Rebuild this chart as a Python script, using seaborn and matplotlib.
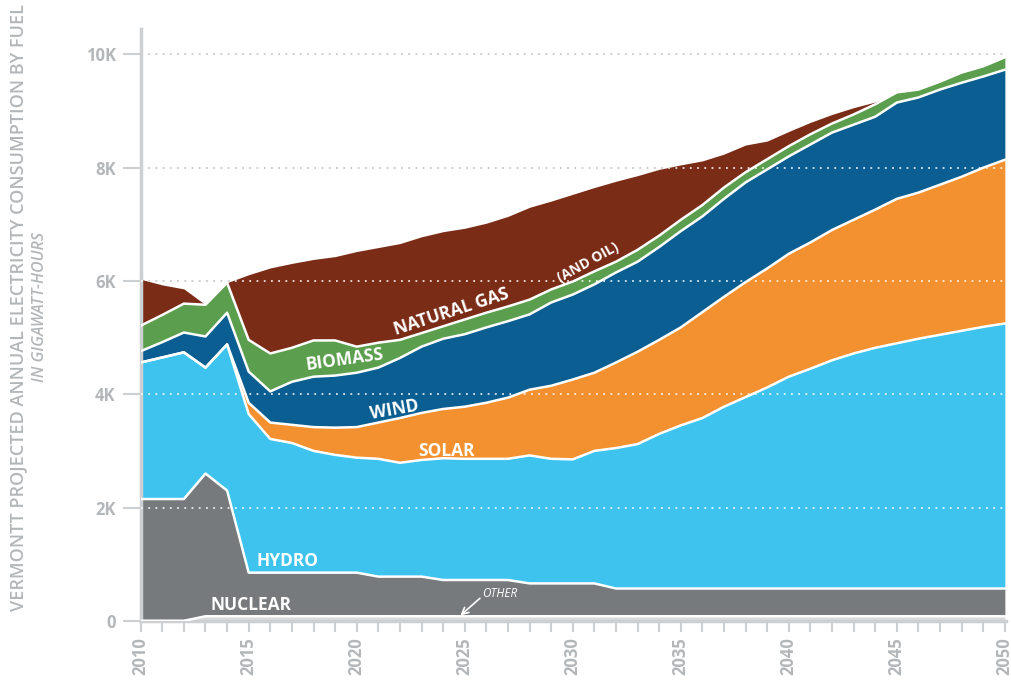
import matplotlib
matplotlib.use("Agg")
import numpy as np
import pandas as pd
import matplotlib.pyplot as plt
import seaborn as sns

# Vermont projected annual electricity consumption by fuel (thousand GWh)
years = list(range(2010, 2051))

other = [0.0, 0.0, 0.0] + [0.08] * 38

nuclear = [2.15, 2.15, 2.15, 2.52, 2.22, 0.77, 0.77, 0.77, 0.77, 0.77,
           0.77, 0.70, 0.70, 0.70, 0.64, 0.64, 0.64, 0.64, 0.58, 0.58,
           0.58, 0.58] + [0.49] * 19

hydro = [2.41, 2.50, 2.59, 1.87, 2.58, 2.80, 2.36, 2.29, 2.15, 2.08,
         2.03, 2.08, 2.01, 2.06, 2.15, 2.14, 2.14, 2.14, 2.26, 2.20,
         2.19, 2.34, 2.48, 2.55, 2.73, 2.88, 3.01, 3.21, 3.38, 3.55,
         3.74, 3.88, 4.03, 4.15, 4.25, 4.33, 4.41, 4.48, 4.55, 4.62,
         4.68]

solar = [0.0, 0.0, 0.0, 0.0, 0.0, 0.20, 0.29, 0.32, 0.42, 0.48,
         0.54, 0.64, 0.79, 0.83, 0.87, 0.92, 0.99, 1.08, 1.16, 1.29,
         1.41, 1.38, 1.51, 1.63, 1.66, 1.73, 1.87, 1.94, 2.03, 2.10,
         2.17, 2.23, 2.30, 2.36, 2.44, 2.55, 2.58, 2.65, 2.72, 2.81,
         2.89]

wind = [0.20, 0.27, 0.35, 0.55, 0.56, 0.55, 0.55, 0.76, 0.89, 0.92,
        0.96, 0.97, 1.06, 1.17, 1.24, 1.28, 1.33, 1.35, 1.33, 1.47,
        1.50, 1.56, 1.59, 1.59, 1.64, 1.70, 1.69, 1.73, 1.76, 1.75,
        1.72, 1.73, 1.72, 1.68, 1.64, 1.70, 1.68, 1.68, 1.66, 1.61,
        1.59]

biomass = [0.45, 0.48, 0.51, 0.56, 0.53, 0.56, 0.67, 0.60, 0.64, 0.62,
           0.46, 0.44, 0.32, 0.24, 0.22, 0.26, 0.26, 0.26, 0.26, 0.23,
           0.23, 0.23, 0.19, 0.21, 0.20, 0.20, 0.20, 0.20, 0.18, 0.18,
           0.18, 0.18, 0.16, 0.18, 0.22, 0.18, 0.14, 0.14, 0.18, 0.18,
           0.22]

natural_gas = [0.82, 0.53, 0.26, 0.0, 0.0, 1.15, 1.51, 1.49, 1.43, 1.48,
               1.68, 1.68, 1.70, 1.70, 1.67, 1.61, 1.58, 1.59, 1.63, 1.56,
               1.54, 1.48, 1.42, 1.31, 1.17, 0.97, 0.78, 0.59, 0.48, 0.32,
               0.26, 0.21, 0.16, 0.12, 0.04, 0.0, 0.0, 0.0, 0.0, 0.0,
               0.0]

names = ["Other", "Nuclear", "Hydro", "Solar", "Wind", "Biomass", "Natural gas"]
colors = ["#d9dadb", "#767a7c", "#3ec3ef", "#f39130", "#0b5e91", "#5b9f4e", "#7b2c17"]

y_ticks = [0, 2, 4, 6, 8, 10]
y_tick_labels = ["0", "2K", "4K", "6K", "8K", "10K"]
x_ticks = list(range(2010, 2051, 5))

sns.set_theme(style="ticks")
plt.rcParams['font.family'] = ['Open Sans', 'DejaVu Sans']

grey_txt = "#b4b7b9"
grey_line = "#cdd0d2"

fig, ax = plt.subplots(figsize=(10.12, 6.89), dpi=100)
fig.subplots_adjust(left=0.139, right=0.994, bottom=0.099, top=0.958)

layers = [other, nuclear, hydro, solar, wind, biomass, natural_gas]
ax.stackplot(years, layers, colors=colors, linewidth=0, zorder=2)

# white separators along each layer's upper edge
tops = np.cumsum(np.array(layers), axis=0)
df = pd.DataFrame({
    "year": np.tile(years, len(names) - 1),
    "top": tops[:-1].ravel(),
    "layer": np.repeat(names[:-1], len(years)),
})
sns.lineplot(data=df, x="year", y="top", units="layer", estimator=None,
             color="white", lw=1.8, ax=ax, zorder=3)

# dotted grid: grey over the background, white over the areas
total = ax.fill_between(years, 0, tops[-1], color="none", lw=0)
clip = total.get_paths()[0]
for y in y_ticks[1:]:
    ax.axhline(y, color="#c6c8ca", ls=(0, (1, 3)), lw=1.3, zorder=1)
    wl = ax.axhline(y, color="white", ls=(0, (1, 3)), lw=1.3, zorder=4, alpha=0.85)
    wl.set_clip_path(clip, ax.transData)

ax.set_xlim(2010, 2050.05)
ax.set_ylim(0, 10.45)
ax.set_xlabel("")
ax.set_ylabel("")

sns.despine(ax=ax)
for side in ["left", "bottom"]:
    ax.spines[side].set_color(grey_line)
    ax.spines[side].set_linewidth(2.5)

ax.set_yticks(y_ticks, y_tick_labels)
ax.tick_params(axis="y", length=13, width=1.5, color=grey_line,
               labelcolor=grey_txt, labelsize=12, pad=5)
ax.set_xticks(x_ticks, [str(x) for x in x_ticks], rotation=90)
ax.set_xticks(years, minor=True)
ax.tick_params(axis="x", which="both", length=8, width=1.5, color=grey_line,
               labelcolor=grey_txt, labelsize=12, pad=4)
for t in ax.get_xticklabels() + ax.get_yticklabels():
    t.set_fontweight("bold")

fig.text(0.018, 0.553, "VERMONTT PROJECTED ANNUAL ELECTRICITY CONSUMPTION BY FUEL",
         rotation=90, ha="center", va="center", color=grey_txt, fontsize=13,
         fontweight="semibold")
fig.text(0.040, 0.555, "IN GIGAWATT-HOURS", rotation=90, ha="center", va="center",
         color=grey_txt, fontsize=11.5, style="italic", fontweight="semibold")

lab = dict(color="white", fontweight="bold", ha="center", va="center", zorder=6)
ax.text(2015.1, 0.28, "NUCLEAR", fontsize=12.5, **lab)
ax.text(2016.8, 1.06, "HYDRO", fontsize=12.5, **lab)
ax.text(2024.15, 3.0, "SOLAR", fontsize=12.5, **lab)
ax.text(2021.75, 3.73, "WIND", fontsize=12.5, rotation=10, **lab)
ax.text(2019.45, 4.61, "BIOMASS", fontsize=12.5, rotation=8, **lab)
ax.text(2024.4, 5.46, "NATURAL GAS", fontsize=12.5, rotation=18, **lab)
ax.text(2030.7, 6.33, "(AND OIL)", fontsize=10, rotation=29, **lab)
ax.text(2026.6, 0.48, "OTHER", fontsize=8.5, color="white", style="italic",
        ha="center", va="center", zorder=6)
ax.annotate("", xy=(2024.7, 0.06), xytext=(2025.8, 0.43),
            arrowprops=dict(arrowstyle="->", color="white", lw=1.2), zorder=6)

fig.savefig("out.png", dpi=100)
